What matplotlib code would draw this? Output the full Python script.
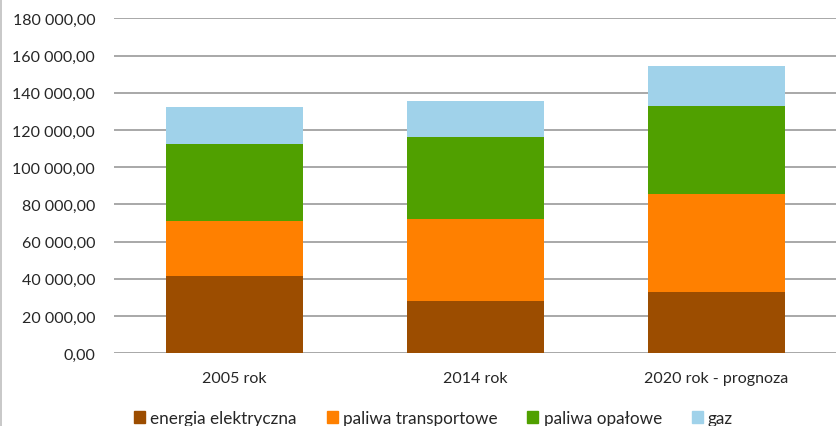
import matplotlib.pyplot as plt
import numpy as np
from matplotlib.ticker import FuncFormatter
from matplotlib.patches import Patch
from matplotlib.lines import Line2D

plt.rcParams['font.family'] = ['Lato', 'DejaVu Sans']

lata = ['2005 rok', '2014 rok', '2020 rok - prognoza']
serie = ['energia elektryczna', 'paliwa transportowe', 'paliwa opałowe', 'gaz']
energia = [41700, 28270, 33100]
transport = [29230, 43900, 52500]
opalowe = [41540, 44060, 47290]
gaz = [19880, 19170, 21490]
kolory = ['#9c4d00', '#ff8000', '#50a000', '#a0d2ea']

fig = plt.figure(figsize=(8.37, 4.27), dpi=100)
ax = fig.add_axes([0.1362, 0.1703, 0.8638, 0.7845])

x = np.arange(len(lata))
dol = np.zeros(len(lata))
for vals, kol in zip([energia, transport, opalowe, gaz], kolory):
    ax.bar(x, vals, 0.57, bottom=dol, color=kol, zorder=3)
    dol += np.array(vals)

ax.set_xlim(-0.5, 2.5)
ax.set_ylim(0, 180000)
ax.set_yticks(np.arange(0, 180001, 20000))
ax.yaxis.set_major_formatter(FuncFormatter(lambda v, p: '{:,.2f}'.format(v).replace(',', ' ').replace('.', ',')))
ax.set_xticks(x)
ax.set_xticklabels(lata)
ax.grid(axis='y', color='#999999', lw=1.2, zorder=0)
for s in ax.spines.values():
    s.set_visible(False)
ax.tick_params(length=0, labelsize=11.5, labelcolor='#262626')
ax.tick_params(axis='y', pad=13.5)
ax.tick_params(axis='x', pad=13)

uchwyty = [Patch(color=k) for k in kolory]
fig.legend(uchwyty, serie, loc='center', bbox_to_anchor=(0.518, 0.019), ncol=4, frameon=False,
           fontsize=12.3, handlelength=0.65, handleheight=0.65, handletextpad=0.3,
           columnspacing=1.75, labelcolor='#262626')

fig.add_artist(Line2D([0.0015, 0.0015], [0, 1], transform=fig.transFigure, color='#bfbfbf', lw=1.2))

plt.savefig('out.png', dpi=100)
